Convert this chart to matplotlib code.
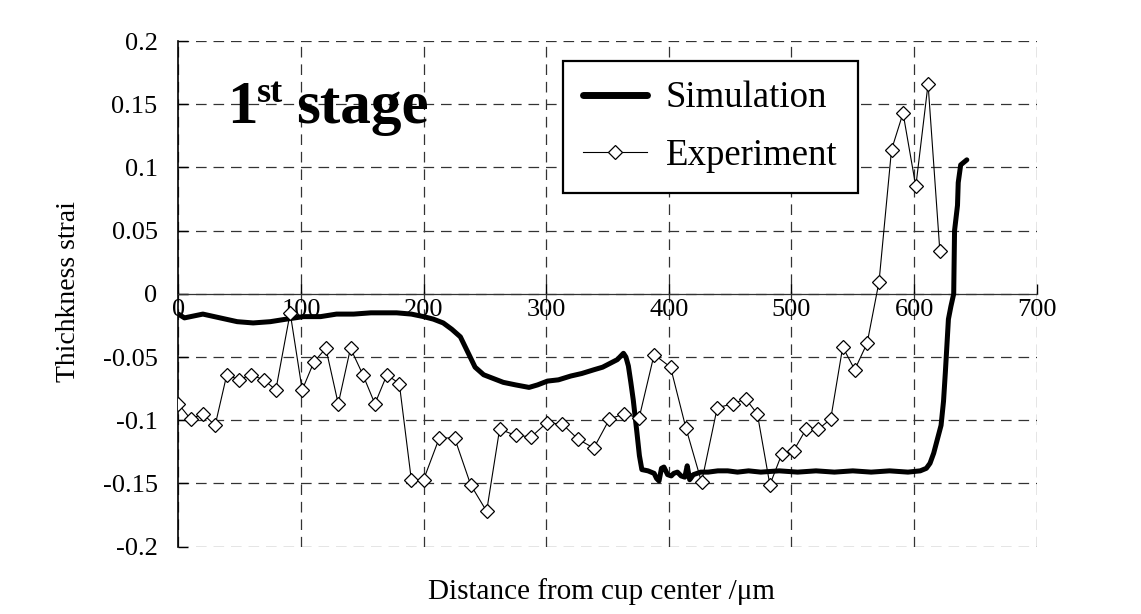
import matplotlib
matplotlib.use("Agg")
import matplotlib.pyplot as plt
from matplotlib.ticker import FixedLocator, FixedFormatter

plt.rcParams["font.family"] = ["Liberation Serif", "DejaVu Serif"]
plt.rcParams["axes.unicode_minus"] = False

# 实验数据 (Experiment)
exp_x = [0, 10, 20, 30, 39.5, 49.5, 59.3, 69.7, 79.5, 91.2, 101, 110.5, 120.3,
         130.4, 140.4, 150.5, 160.3, 170.1, 180.2, 190, 200, 212.8, 225.3,
         238.4, 251.4, 262, 275.1, 287.9, 300.4, 313.2, 326, 338.8, 351.6,
         363.3, 375.8, 388, 401.4, 413.9, 426.7, 439.5, 452.3, 462.6, 472.2,
         482.4, 492, 501.8, 511.9, 522, 532, 541.8, 551.6, 561.7, 571.4,
         581.6, 591, 601.4, 611.4, 621]
exp_y = [-0.087, -0.099, -0.095, -0.104, -0.064, -0.068, -0.064, -0.068,
         -0.076, -0.015, -0.076, -0.054, -0.043, -0.087, -0.043, -0.064,
         -0.087, -0.064, -0.071, -0.147, -0.147, -0.114, -0.114, -0.151,
         -0.172, -0.107, -0.112, -0.113, -0.102, -0.103, -0.115, -0.122,
         -0.099, -0.095, -0.098, -0.048, -0.058, -0.106, -0.149, -0.090,
         -0.087, -0.083, -0.095, -0.151, -0.127, -0.124, -0.107, -0.107,
         -0.099, -0.042, -0.060, -0.039, 0.0095, 0.114, 0.143, 0.085,
         0.166, 0.034]

# 模拟数据 (Simulation)
sim_x = [0, 5, 10, 20, 34, 48, 61, 75, 88, 102, 116, 129, 143, 157, 178, 190,
         200, 208, 216, 223, 230, 235, 242, 249, 257, 265, 275, 286, 293, 301,
         310, 320, 329, 339, 346, 352, 358, 363, 365, 367, 369, 371, 374, 376,
         378, 383, 388, 390, 392, 394, 396, 399, 402, 404, 407, 410, 413, 415,
         417, 420, 423, 426, 432, 440, 448, 456, 465, 475, 490, 505, 520, 535,
         550, 565, 580, 595, 605, 610, 613, 616, 619, 622, 624, 625.5, 628,
         630, 632.3, 633, 635.4, 636, 638, 643]
sim_y = [-0.016, -0.019, -0.018, -0.016, -0.019, -0.022, -0.023, -0.022,
         -0.020, -0.018, -0.018, -0.016, -0.016, -0.015, -0.015, -0.016,
         -0.018, -0.020, -0.023, -0.028, -0.034, -0.044, -0.058, -0.064,
         -0.067, -0.070, -0.072, -0.074, -0.072, -0.069, -0.068, -0.065,
         -0.063, -0.060, -0.058, -0.055, -0.052, -0.047, -0.050, -0.057,
         -0.070, -0.084, -0.110, -0.128, -0.139, -0.140, -0.142, -0.146,
         -0.148, -0.138, -0.137, -0.143, -0.144, -0.142, -0.141, -0.144,
         -0.145, -0.136, -0.147, -0.143, -0.142, -0.141, -0.141, -0.140,
         -0.140, -0.141, -0.140, -0.141, -0.140, -0.141, -0.140, -0.141,
         -0.140, -0.141, -0.140, -0.141, -0.140, -0.138, -0.134, -0.126,
         -0.115, -0.104, -0.085, -0.062, -0.020, -0.010, 0.0, 0.05, 0.07,
         0.088, 0.102, 0.106]

x_ticks = [0, 100, 200, 300, 400, 500, 600, 700]
y_ticks = [-0.2, -0.15, -0.1, -0.05, 0, 0.05, 0.1, 0.15, 0.2]
y_tick_labels = ["-0.2", "-0.15", "-0.1", "-0.05", "0", "0.05", "0.1", "0.15", "0.2"]

fig = plt.figure(figsize=(11.41, 6.14), dpi=100)
ax = fig.add_axes([0.1563, 0.1096, 0.7523, 0.8236])

ax.plot(sim_x, sim_y, color="black", lw=3.6, label="Simulation",
        solid_capstyle="round", zorder=3)
ax.plot(exp_x, exp_y, color="black", lw=0.8, marker="D", ms=7.3,
        mfc="white", mec="black", mew=0.9, label="Experiment", zorder=4)

ax.set_xlim(0, 700)
ax.set_ylim(-0.2, 0.2)
ax.xaxis.set_major_locator(FixedLocator(x_ticks))
ax.yaxis.set_major_locator(FixedLocator(y_ticks))
ax.yaxis.set_major_formatter(FixedFormatter(y_tick_labels))

ax.grid(True, color="#333333", lw=0.9, linestyle=(0, (8.5, 5.5)))
ax.set_axisbelow(True)

ax.spines["top"].set_visible(False)
ax.spines["right"].set_visible(False)
ax.spines["left"].set_linewidth(1.2)
ax.spines["bottom"].set_position(("data", 0))
ax.spines["bottom"].set_color("#333333")
ax.spines["bottom"].set_linewidth(0.9)

ax.tick_params(axis="y", direction="in", length=7, width=1, pad=15, labelsize=19)
ax.tick_params(axis="x", direction="in", length=7, width=1, pad=4, labelsize=19)

leg = ax.legend(loc="upper left", bbox_to_anchor=(0.4478, 0.961), fontsize=26.5,
                frameon=True, fancybox=False, framealpha=1, edgecolor="black",
                handlelength=1.75, handletextpad=0.5, borderpad=0.55,
                labelspacing=0.62, borderaxespad=0)
leg.get_frame().set_linewidth(1.6)
leg.get_lines()[0].set_linewidth(5)

fig.text(0.199, 0.7997, "1", fontsize=44, fontweight="bold", ha="left", va="baseline")
fig.text(0.2255, 0.834, "st", fontsize=26, fontweight="bold", ha="left", va="baseline")
fig.text(0.2595, 0.7997, "stage", fontsize=44, fontweight="bold", ha="left", va="baseline")

fig.text(0.0596, 0.526, "Thichkness strai", fontsize=20, rotation=90,
         ha="center", va="center")
fig.text(0.527, 0.036, "Distance from cup center /μm", fontsize=21,
         ha="center", va="center")

fig.savefig("out.png", dpi=100)
